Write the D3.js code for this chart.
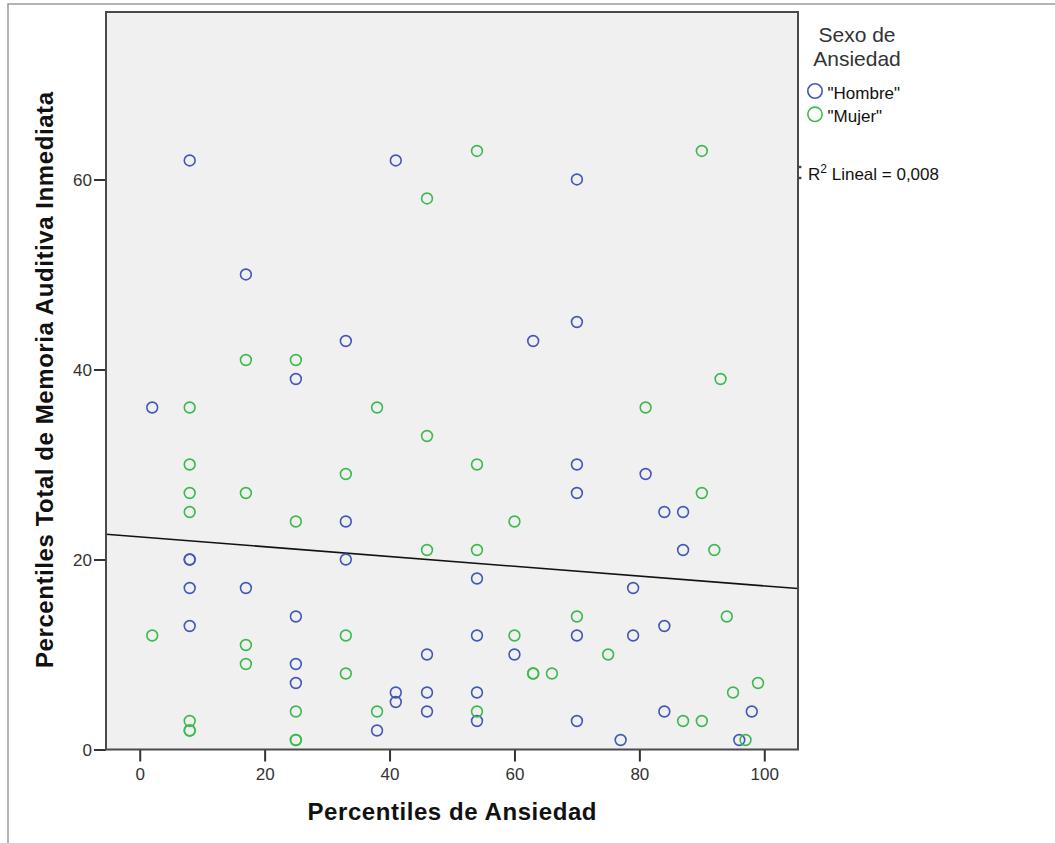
<!DOCTYPE html>
<html>
<head>
<meta charset="utf-8">
<script src="https://cdn.jsdelivr.net/npm/d3@7"></script>
<style>
  html, body { margin: 0; padding: 0; background: #fff; }
  svg { display: block; font-family: "Liberation Sans", Arial, sans-serif; }
</style>
</head>
<body>
<svg id="chart" width="1055" height="843"></svg>
<script>
// ---- data ----
const hombreX = [8, 17, 41, 70, 2, 25, 33, 33, 63, 70, 70, 70, 81, 84, 87, 87, 8, 8, 8, 17, 8, 25, 25, 25, 33, 54, 79, 54, 70, 79, 84, 46, 60, 41, 41, 46, 46, 54, 54, 38, 70, 77, 84, 98, 96];
const hombreY = [62, 50, 62, 60, 36, 39, 43, 24, 43, 45, 30, 27, 29, 25, 25, 21, 20, 20, 17, 17, 13, 14, 9, 7, 20, 18, 17, 12, 12, 12, 13, 10, 10, 6, 5, 6, 4, 6, 3, 2, 3, 1, 4, 4, 1];
const mujerX = [46, 54, 90, 17, 25, 8, 8, 8, 8, 17, 25, 33, 38, 46, 54, 60, 81, 93, 90, 92, 46, 54, 70, 94, 2, 33, 60, 17, 17, 75, 33, 63, 63, 66, 25, 38, 54, 8, 8, 8, 25, 25, 87, 90, 99, 95, 97];
const mujerY = [58, 63, 63, 41, 41, 36, 30, 27, 25, 27, 24, 29, 36, 33, 30, 24, 36, 39, 27, 21, 21, 21, 14, 14, 12, 12, 12, 11, 9, 10, 8, 8, 8, 8, 4, 4, 4, 3, 2, 2, 1, 1, 3, 3, 7, 6, 1];
const xTicks = [0, 20, 40, 60, 80, 100];
const yTicks = [0, 20, 40, 60];
const legendTitle = ["Sexo de", "Ansiedad"];
const seriesNames = ['"Hombre"', '"Mujer"'];
const seriesColors = ["#4257b9", "#3cba4e"];
const r2Label = "0,008";

// ---- layout ----
const svg = d3.select("#chart");
const L = 106, R = 798, T = 12, B = 749.5;
const x = d3.scaleLinear().domain([-5.4, 105.4]).range([L, R]);
const y = d3.scaleLinear().domain([0, 77.63]).range([B, T]);

// outer frame (partial)
svg.append("path")
  .attr("d", "M8,843 V4 H1055")
  .attr("fill", "none").attr("stroke", "#9a9a9a").attr("stroke-width", 1.5);

// plot background
svg.append("rect")
  .attr("x", L).attr("y", T).attr("width", R - L).attr("height", B - T)
  .attr("fill", "#f0f0f0");

// axes
const tickFont = "17px";
const gx = svg.append("g").attr("transform", `translate(0,${B})`)
  .call(d3.axisBottom(x).tickValues(xTicks).tickSize(12).tickSizeOuter(0).tickPadding(6));
const gy = svg.append("g").attr("transform", `translate(${L},0)`)
  .call(d3.axisLeft(y).tickValues(yTicks).tickSize(12).tickSizeOuter(0).tickPadding(2));
[gx, gy].forEach(g => {
  g.select(".domain").remove();
  g.selectAll(".tick line").attr("stroke", "#333").attr("stroke-width", 2);
  g.selectAll(".tick text").attr("fill", "#333").style("font-size", tickFont)
    .style("font-family", '"Liberation Sans", Arial, sans-serif');
});
gy.selectAll(".tick text").attr("dy", "0.36em");

// regression line (least squares on all points)
const allX = hombreX.concat(mujerX), allY = hombreY.concat(mujerY);
const mx = d3.mean(allX), my = d3.mean(allY);
let sxy = 0, sxx = 0;
allX.forEach((v, i) => { sxy += (v - mx) * (allY[i] - my); sxx += (v - mx) * (v - mx); });
const slope = sxy / sxx, intercept = my - slope * mx;
const clipId = "plotclip";
svg.append("clipPath").attr("id", clipId).append("rect")
  .attr("x", L).attr("y", T).attr("width", R - L).attr("height", B - T);
const xd = x.domain();
svg.append("line")
  .attr("clip-path", `url(#${clipId})`)
  .attr("x1", x(xd[0])).attr("y1", y(intercept + slope * xd[0]))
  .attr("x2", x(xd[1])).attr("y2", y(intercept + slope * xd[1]))
  .attr("stroke", "#111").attr("stroke-width", 1.6);

// points
const series = [
  { xs: hombreX, ys: hombreY, color: seriesColors[0] },
  { xs: mujerX, ys: mujerY, color: seriesColors[1] }
];
series.forEach(s => {
  svg.append("g").selectAll("circle")
    .data(s.xs.map((v, i) => [v, s.ys[i]]))
    .join("circle")
    .attr("cx", d => x(d[0])).attr("cy", d => y(d[1]))
    .attr("r", 5.4)
    .attr("fill", "none").attr("stroke", s.color).attr("stroke-width", 1.6);
});

// plot border
svg.append("rect")
  .attr("x", L).attr("y", T).attr("width", R - L).attr("height", B - T)
  .attr("fill", "none").attr("stroke", "#4a4a4a").attr("stroke-width", 2);

// axis titles
svg.append("text")
  .attr("x", 452).attr("y", 820)
  .attr("text-anchor", "middle")
  .attr("textLength", 289).attr("lengthAdjust", "spacing")
  .style("font-size", "24px").style("font-weight", "bold").attr("fill", "#111")
  .text("Percentiles de Ansiedad");
svg.append("text")
  .attr("transform", "translate(53,380) rotate(-90)")
  .attr("text-anchor", "middle")
  .attr("textLength", 576).attr("lengthAdjust", "spacing")
  .style("font-size", "24px").style("font-weight", "bold").attr("fill", "#111")
  .text("Percentiles Total de Memoria Auditiva Inmediata");

// legend
const lg = svg.append("g");
legendTitle.forEach((t, i) => {
  lg.append("text").attr("x", 857).attr("y", 42 + i * 23.5)
    .attr("text-anchor", "middle")
    .style("font-size", "21px").attr("fill", "#333").text(t);
});
seriesNames.forEach((n, i) => {
  const cy = 91 + i * 23.3;
  lg.append("circle").attr("cx", 815).attr("cy", cy).attr("r", 7.2)
    .attr("fill", "none").attr("stroke", seriesColors[i]).attr("stroke-width", 1.6);
  lg.append("text").attr("x", 827.5).attr("y", cy + 8)
    .style("font-size", "17px").attr("fill", "#111").text(n);
});
// fit line legend mark (mostly hidden behind the border)
[167, 178].forEach(yy => {
  lg.append("rect").attr("x", 799).attr("y", yy - 1.2).attr("width", 2.4).attr("height", 2.4)
    .attr("fill", "#444");
});
const rt = lg.append("text").attr("x", 808).attr("y", 180)
  .style("font-size", "17px").attr("fill", "#111");
rt.append("tspan").text("R");
rt.append("tspan").attr("dy", -7).style("font-size", "12px").text("2");
rt.append("tspan").attr("dy", 7).text(" Lineal = " + r2Label);
</script>
</body>
</html>
